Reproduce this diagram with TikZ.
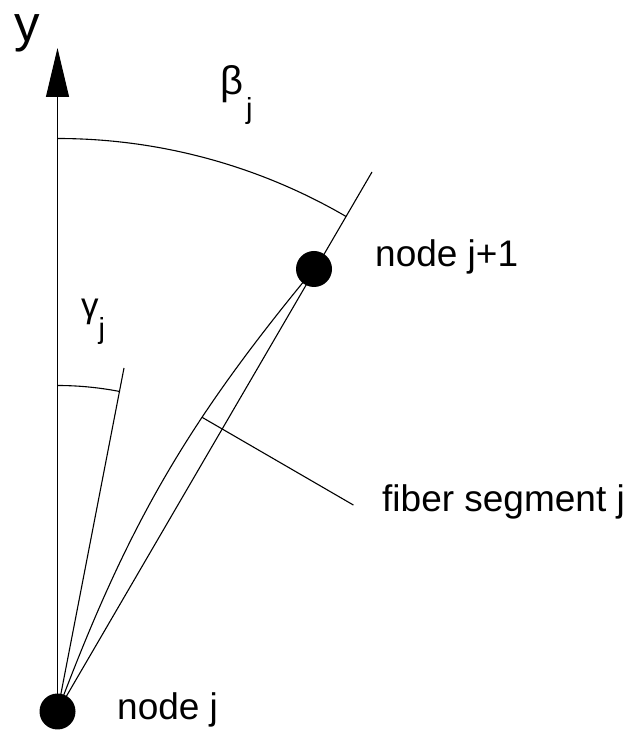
\documentclass[tikz,border=0pt]{standalone}
\usepackage{fontspec}
\setmainfont{Liberation Sans}
\usetikzlibrary{arrows.meta}
\begin{document}
\begin{tikzpicture}[x=1pt,y=1pt,
  ln/.style={line width=1.1pt},
  dot/.style={circle,fill=black,minimum size=36pt,inner sep=0pt},
  lbl/.style={inner sep=0pt,font=\fontsize{37}{40}\selectfont}]
\useasboundingbox (0,0) rectangle (639,734);
\coordinate (A) at (57.5,22.5);
\coordinate (B) at (314,465);
\coordinate (E) at (372,562);
\coordinate (T) at (57.5,686);
\coordinate (G) at (124,366);
% lines
\draw[ln] (A) -- (E);
\draw[ln] (A) to[bend left=9.5] coordinate[pos=0.65] (fp) (B);
\draw[ln] (fp) -- ++(-30.1:175) coordinate (F);
\draw[ln] (A) -- (G);
% angle arcs
\draw[ln] (A) ++(90:326) arc[start angle=90,end angle=79.04,radius=326];
\draw[ln] (A) ++(90:573) arc[start angle=90,end angle=59.76,radius=573];
% axis
\draw[ln,-{Triangle[length=49pt,width=23pt]}] (A) -- (T);
% nodes
\node[dot] (nj) at (A) {};
\node[dot] (nj1) at (B) {};
% labels
\node[lbl,anchor=base west] (tj) at (117,14) {node j};
\node[lbl,anchor=base west] (tj1) at (375,467) {node j+1};
\node[lbl,anchor=base west] (tf) at (382,222) {fiber segment j};
\node[inner sep=0pt,anchor=base,font=\fontsize{51}{51}\selectfont] (ylab) at (27.5,692.5) {y};
\node[anchor=base west,inner sep=0pt,font=\fontsize{40}{40}\selectfont] (beta) at (220,639)
  {β\hspace{3pt}\raisebox{-24pt}{\fontsize{29}{29}\selectfont j}};
\node[anchor=base west,inner sep=0pt,font=\fontsize{35}{35}\selectfont] (gamma) at (81,416)
  {γ\hspace{0pt}\raisebox{-21pt}{\fontsize{29}{29}\selectfont j}};
\end{tikzpicture}
\end{document}
